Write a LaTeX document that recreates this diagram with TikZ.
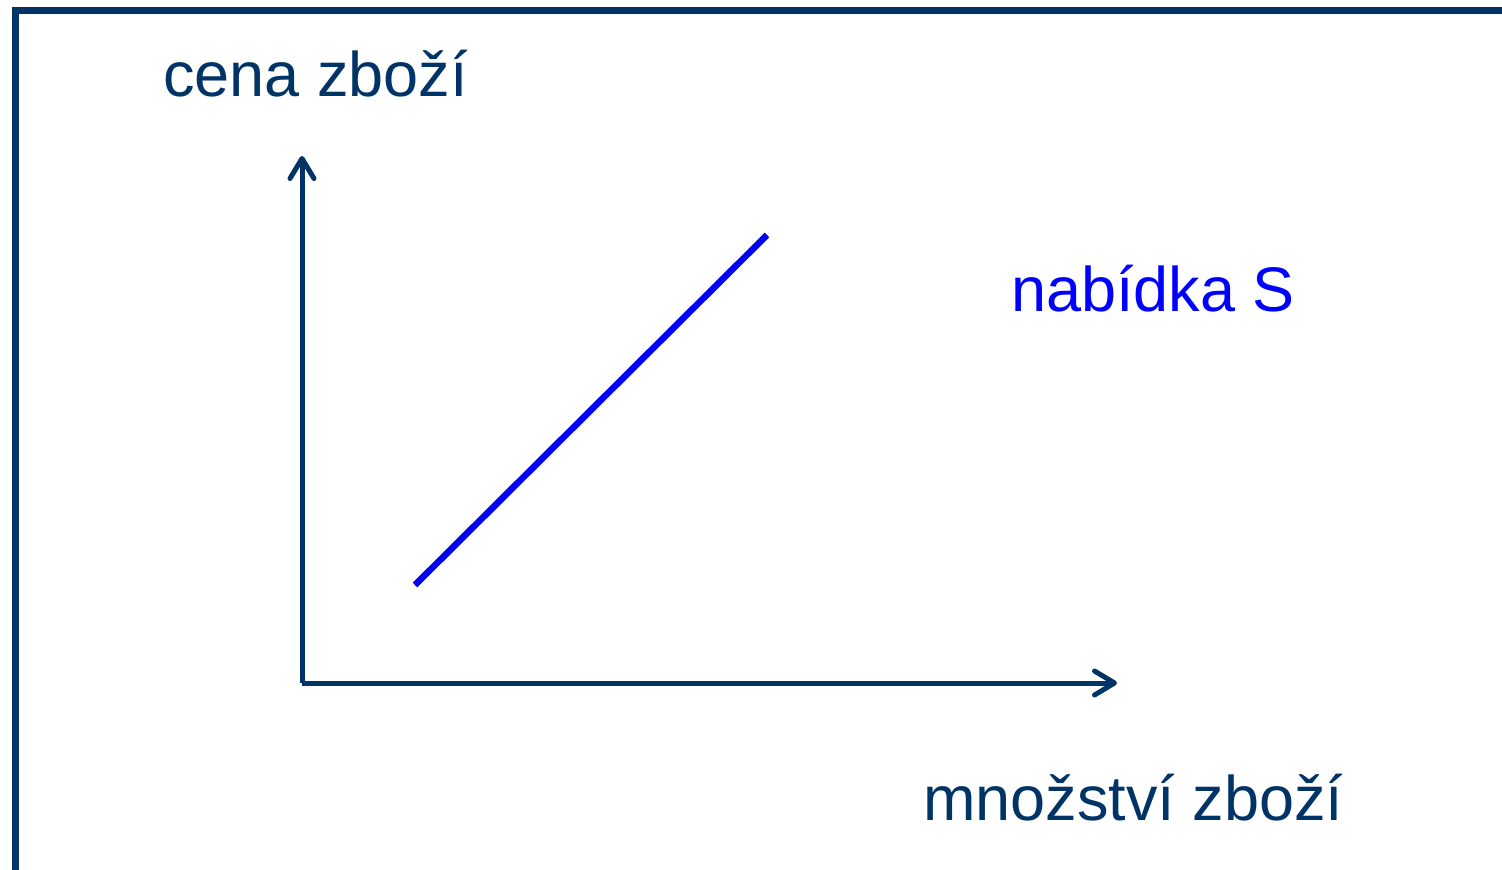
\documentclass[tikz,border=0pt]{standalone}
\usepackage{fontspec}
\setmainfont{Liberation Sans}
\usetikzlibrary{arrows.meta, positioning}
\definecolor{frameBlue}{HTML}{003366}
\definecolor{supplyBlue}{HTML}{0000FF}

\begin{document}
\begin{tikzpicture}[
    x=1pt, y=-1pt,
    lbl/.style={anchor=base west, inner sep=0pt, font=\fontsize{63}{70}\selectfont},
    axis/.style={line width=5pt, frameBlue, -{Straight Barb[length=20pt, width=24pt, line cap=round, line join=round]}},
]
    \useasboundingbox (0,0) rectangle (1502,870);
    \draw[line width=7pt, frameBlue] (15,875) -- (15,10) -- (1510,10);

    \coordinate (origin) at (302,683);
    \coordinate (ytip) at (302,156);
    \coordinate (xtip) at (1117,683);
    \draw[axis] (origin) -- (ytip);
    \draw[axis] (origin) -- (xtip);

    \coordinate (sLow) at (415,585);
    \coordinate (sHigh) at (767,235);
    \draw[line width=6.5pt, supplyBlue] (sLow) -- (sHigh);

    \node[lbl, text=frameBlue] (price) at (163,96) {cena zboží};
    \node[lbl, text=supplyBlue] (supply) at (1011,311) {nabídka S};
    \node[lbl, text=frameBlue] (qty) at (923,820) {množství zboží};
\end{tikzpicture}
\end{document}
